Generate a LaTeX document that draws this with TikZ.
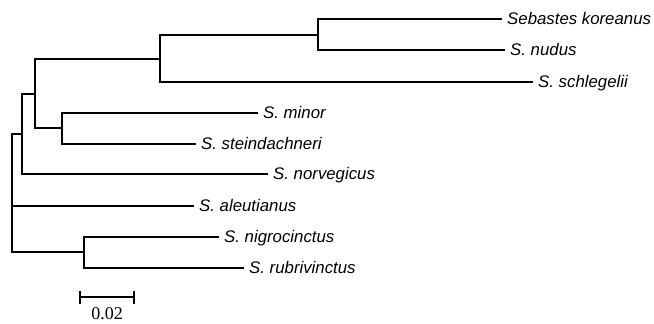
\documentclass[tikz,border=0pt]{standalone}
\usepackage{fontspec}
\newfontfamily\labfont{Liberation Sans}
\newfontfamily\scalefont{Liberation Serif}
\begin{document}
\begin{tikzpicture}[x=1pt,y=-1pt,
  branch/.style={line width=1.2pt, line cap=rect},
  lab/.style={anchor=west, inner xsep=6pt, inner ysep=0pt, text height=11.8pt, text depth=0pt,
    font=\labfont\itshape\fontsize{16.8}{18}\selectfont},
  sbar/.style={line width=2.8pt}]
\useasboundingbox (0,0) rectangle (654,324);
% internal nodes
\coordinate (A) at (318,35);
\coordinate (B) at (160,59);
\coordinate (D) at (62,128);
\coordinate (C) at (35,94);
\coordinate (E) at (22,134);
\coordinate (G) at (84,252);
\coordinate (F) at (12,134);
% leaves
\node[lab] (sk) at (501,19) {Sebastes koreanus};
\node[lab] (nu) at (504,50) {S. nudus};
\node[lab] (sc) at (532,82) {S. schlegelii};
\node[lab] (mi) at (257,113) {S. minor};
\node[lab] (st) at (195,144) {S. steindachneri};
\node[lab] (no) at (267,174) {S. norvegicus};
\node[lab] (al) at (193,206) {S. aleutianus};
\node[lab] (ni) at (218,237) {S. nigrocinctus};
\node[lab] (ru) at (243,268) {S. rubrivinctus};
% branches
\draw[branch] (A) |- (sk.west);
\draw[branch] (A) |- (nu.west);
\draw[branch] (B) |- (A);
\draw[branch] (B) |- (sc.west);
\draw[branch] (D) |- (mi.west);
\draw[branch] (D) |- (st.west);
\draw[branch] (C) |- (B);
\draw[branch] (C) |- (D);
\draw[branch] (E) |- (C);
\draw[branch] (E) |- (no.west);
\draw[branch] (G) |- (ni.west);
\draw[branch] (G) |- (ru.west);
\draw[branch] (F) -- (E);
\draw[branch] (F) |- (al.west);
\draw[branch] (F) |- (G);
% scale bar
\coordinate (s1) at (80,297);
\coordinate (s2) at (134,297);
\draw[sbar] (s1) -- (s2);
\draw[sbar] ([yshift=6.5pt]s1) -- ([yshift=-6.5pt]s1);
\draw[sbar] ([yshift=6.5pt]s2) -- ([yshift=-6.5pt]s2);
\node[anchor=base, inner sep=0pt, font=\scalefont\fontsize{18}{20}\selectfont] (sl) at (107,319) {0.02};
\end{tikzpicture}
\end{document}
